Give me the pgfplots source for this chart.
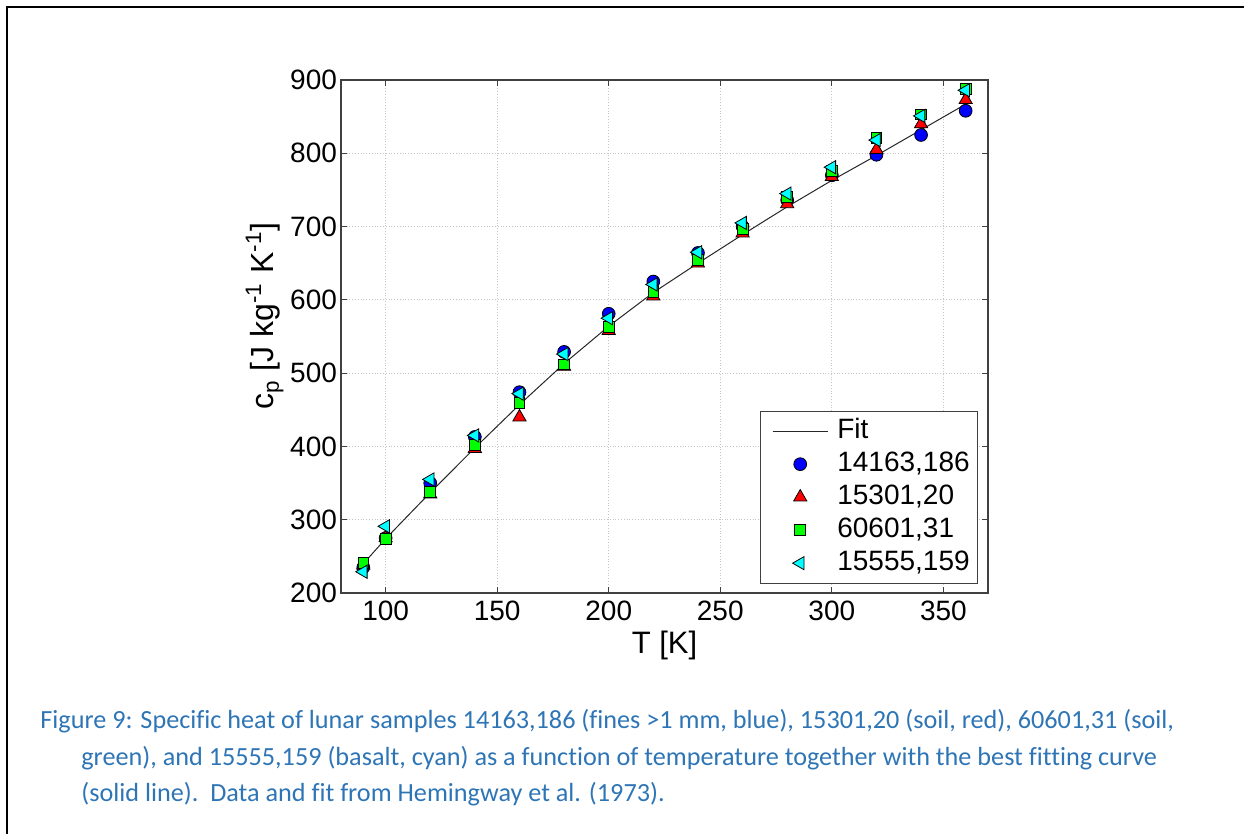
\documentclass[border=0pt]{standalone}
\usepackage{fontspec}
\setmainfont{Liberation Sans}
\newfontfamily\capfont[Ligatures=NoCommon]{Carlito}
\usepackage{pgfplots}
\pgfplotsset{compat=1.18}
\definecolor{capblue}{HTML}{2E75B6}
\definecolor{mcyan}{rgb}{0,1,1}
\definecolor{mgreen}{rgb}{0,1,0}

\begin{document}
\begin{tikzpicture}
\useasboundingbox (0,0) rectangle (622pt,-417pt);
\draw[line width=1.1pt] (3.5pt,-417pt) -- (3.5pt,-3.5pt) -- (622pt,-3.5pt);
\begin{axis}[
  at={(170.5pt,-296.5pt)}, anchor=south west,
  scale only axis, width=323.5pt, height=256.5pt,
  xmin=80, xmax=370, ymin=200, ymax=900,
  xtick={100,150,...,350}, ytick={200,300,...,900},
  tick align=inside, major tick length=3pt,
  grid=major,
  grid style={densely dotted, gray!45, line width=0.4pt},
  axis line style={black!75, line width=0.6pt},
  tick style={black!75, line width=0.6pt},
  /pgf/number format/assume math mode=true,
  tick label style={font=\fontsize{14}{16}\selectfont},
  yticklabel style={xshift=1.5pt},
  xticklabel style={yshift=-0.5pt},
  xlabel={T [K]},
  ylabel={c\textsubscript{p} [J kg\textsuperscript{-1} K\textsuperscript{-1}]},
  label style={font=\fontsize{15.5}{18}\selectfont},
  ylabel style={font=\fontsize{16}{18}\selectfont},
  xlabel style={at={(axis description cs:0.5,-0.103)}, anchor=center},
  ylabel style={at={(axis description cs:-0.118,0.54)}, anchor=center},
  legend style={
    at={(rel axis cs:0.985,0.018)}, anchor=south east,
    font=\fontsize{14}{16}\selectfont,
    draw=black!75, line width=0.6pt,
    inner xsep=3pt, inner ysep=2.5pt,
    nodes={inner sep=1pt, text height=10pt, text depth=3pt},
    row sep=1.5pt,
    cells={anchor=west}
  },
  legend image code/.code={%
    \draw[mark repeat=2,mark phase=2] plot coordinates {(0pt,0pt) (13.75pt,0pt) (27.5pt,0pt)};
    \path (-3pt,0pt) (31pt,0pt);}
]
\addplot[black!85, line width=0.5pt, no markers] coordinates {
(90,240) (100,274) (120,337) (140,398) (160,457) (180,513) (200,564)
(220,610) (240,650) (260,689) (280,727) (300,763) (320,797) (340,832) (360,867)};
\addlegendentry{Fit}
\addplot[only marks, mark=*, mark size=3.2pt, mark options={fill=blue, draw=black, line width=0.4pt}] coordinates {
(90,235) (100,275) (120,350) (140,413) (160,474) (180,529) (200,581)
(220,625) (240,664) (260,700) (280,736) (300,770) (320,798) (340,825) (360,858)};
\addlegendentry{14163,186}
\addplot[only marks, mark=triangle*, mark size=3.8pt, mark options={fill=red, draw=black, line width=0.4pt}] coordinates {
(90,238) (100,275) (120,335) (140,397) (160,440) (180,509) (200,558)
(220,605) (240,650) (260,691) (280,731) (300,768) (320,805) (340,840) (360,873)};
\addlegendentry{15301,20}
\addplot[only marks, mark=square*, mark size=2.7pt, mark options={fill=mgreen, draw=black, line width=0.4pt}] coordinates {
(90,241) (100,274) (120,338) (140,402) (160,459) (180,512) (200,563)
(220,611) (240,655) (260,697) (280,740) (300,776) (320,821) (340,853) (360,888)};
\addlegendentry{60601,31}
\addplot[only marks, mark=triangle*, mark size=3.8pt, mark options={fill=mcyan, draw=black, line width=0.4pt, rotate=90}] coordinates {
(90,229) (100,291) (120,355) (140,415) (160,472) (180,526) (200,575)
(220,621) (240,665) (260,705) (280,745) (300,781) (320,818) (340,851) (360,886)};
\addlegendentry{15555,159}
\end{axis}
\begin{scope}[every node/.style={anchor=base west, inner sep=0pt, text=capblue, font=\capfont\fontsize{13.1}{15}\selectfont}]
\node at (20pt,-364pt) {Figure 9: Specific heat of lunar samples 14163,186 (fines >1 mm, blue), 15301,20 (soil, red), 60601,31 (soil,};
\node at (40.5pt,-382.5pt) {green), and 15555,159 (basalt, cyan) as a function of temperature together with the best fitting curve};
\node at (40.5pt,-400.5pt) {(solid line).\ \ Data and fit from Hemingway et al. (1973).};
\end{scope}
\end{tikzpicture}
\end{document}
